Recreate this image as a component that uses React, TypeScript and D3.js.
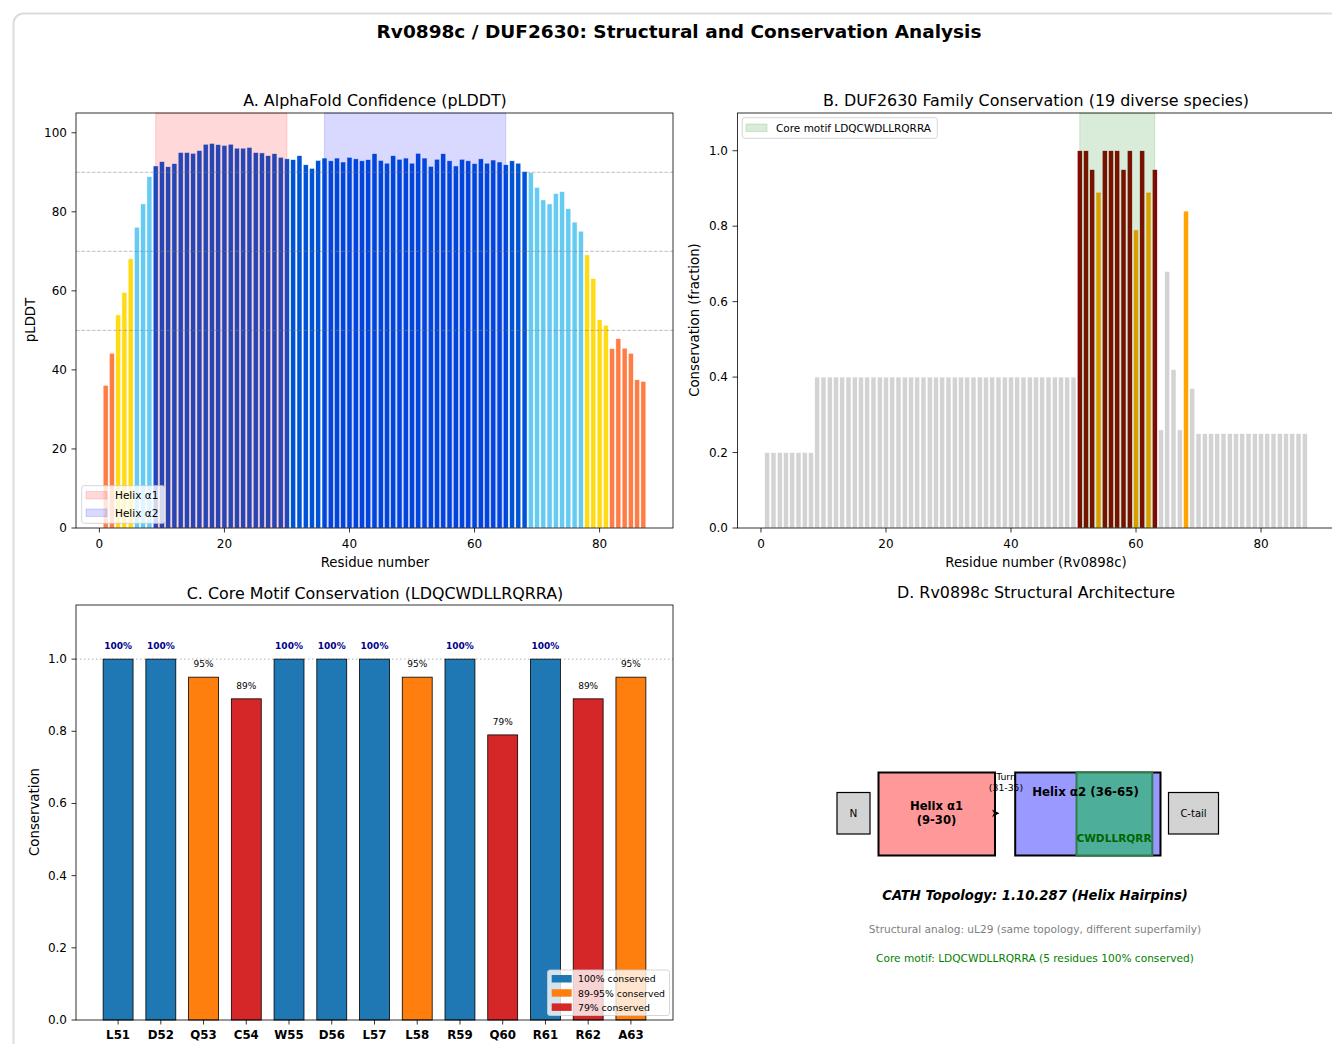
import React from "react";
import * as d3 from "d3";

const plddt: number[] = [
  36.1, 44.2, 53.9, 59.6, 68.1, 76.1, 82.0, 88.9, 91.6, 92.7,
  91.4, 92.2, 95.0, 95.0, 94.8, 95.5, 97.1, 97.3, 97.0, 96.8,
  97.1, 96.1, 96.1, 96.3, 95.0, 94.9, 94.2, 94.7, 93.8, 93.4,
  93.2, 94.2, 91.9, 91.0, 93.0, 93.6, 92.9, 93.6, 92.6, 93.8,
  93.4, 92.9, 93.2, 94.7, 93.0, 92.3, 94.2, 93.3, 93.6, 92.3,
  94.8, 93.6, 91.5, 93.3, 94.7, 92.9, 91.6, 93.3, 92.9, 92.2,
  93.4, 92.3, 93.1, 92.6, 91.9, 92.9, 92.3, 90.2, 89.9, 86.2,
  83.0, 82.0, 84.6, 85.1, 80.8, 77.4, 75.1, 69.1, 63.1, 52.7,
  51.3, 45.4, 47.9, 45.5, 44.2, 37.5, 37.1,
];

const conservation: number[] = [
  0.2, 0.2, 0.2, 0.2, 0.2, 0.2, 0.2, 0.2,
  0.4, 0.4, 0.4, 0.4, 0.4, 0.4, 0.4, 0.4, 0.4, 0.4,
  0.4, 0.4, 0.4, 0.4, 0.4, 0.4, 0.4, 0.4, 0.4, 0.4,
  0.4, 0.4, 0.4, 0.4, 0.4, 0.4, 0.4, 0.4, 0.4, 0.4,
  0.4, 0.4, 0.4, 0.4, 0.4, 0.4, 0.4, 0.4, 0.4, 0.4,
  0.4, 0.4,
  1.0, 1.0, 0.95, 0.89, 1.0, 1.0, 1.0, 0.95, 1.0, 0.79, 1.0, 0.89, 0.95,
  0.26, 0.68, 0.42, 0.26, 0.84, 0.37,
  0.25, 0.25, 0.25, 0.25, 0.25, 0.25, 0.25, 0.25, 0.25,
  0.25, 0.25, 0.25, 0.25, 0.25, 0.25, 0.25, 0.25, 0.25,
];

const motifLabels: string[] = ["L51", "D52", "Q53", "C54", "W55", "D56", "L57", "L58", "R59", "Q60", "R61", "R62", "A63"];
const motifValues: number[] = [1.0, 1.0, 0.95, 0.89, 1.0, 1.0, 1.0, 0.95, 1.0, 0.79, 1.0, 0.89, 0.95];

const helix1: [number, number] = [9, 30];
const helix2: [number, number] = [36, 65];
const motifSpan: [number, number] = [51, 63];

const xTicksRes = [0, 20, 40, 60, 80];
const yTicksA = [0, 20, 40, 60, 80, 100];
const yTicksFrac = [0, 0.2, 0.4, 0.6, 0.8, 1.0];
const refLinesA = [50, 70, 90];

const FONT = "DejaVu Sans, Verdana, sans-serif";

function plddtColor(v: number) {
  if (v > 90) return "#0053D6";
  if (v > 70) return "#65CBF3";
  if (v > 50) return "#FFDB13";
  return "#FF7D45";
}
function consColor(v: number) {
  if (v >= 0.9) return "#8B0000";
  if (v >= 0.7) return "#FFA500";
  return "#D3D3D3";
}
function motifColor(v: number) {
  if (v >= 0.999) return "#1f77b4";
  if (v >= 0.9) return "#ff7f0e";
  return "#d62728";
}

export default function App() {
  const residues = plddt.map((_, i) => i + 1);

  const xA = d3.scaleLinear().domain([-3.74, 91.74]).range([76, 673]);
  const yA = d3.scaleLinear().domain([0, 105]).range([528, 113]);
  const xB = d3.scaleLinear().domain([-3.74, 91.74]).range([737.6, 1334.4]);
  const yB = d3.scaleLinear().domain([0, 1.1]).range([528, 113]);
  const xC = d3.scaleLinear().domain([-0.985, 12.985]).range([76, 673]);
  const yC = d3.scaleLinear().domain([0, 1.15]).range([1020, 605]);

  const tickFs = 12;
  const labelFs = 13.3;
  const titleFs = 15.9;

  return (
    <svg width={1332} height={1044} style={{ position: "absolute", left: 0, top: 0, background: "#fff" }} fontFamily={FONT}>
      <rect x={0} y={0} width={1332} height={1044} fill="#fff" />
      <rect x={13.5} y={13.5} width={1400} height={1100} rx={10} fill="none" stroke="#dcdcdc" strokeWidth={2} />

      <text x={679} y={31} textAnchor="middle" dominantBaseline="central" fontSize={18.5} fontWeight="bold">
        Rv0898c / DUF2630: Structural and Conservation Analysis
      </text>

      {/* ---------- Panel A ---------- */}
      <g>
        {residues.map((r, i) => (
          <rect key={r} x={xA(r - 0.4)} y={yA(plddt[i])} width={xA(r + 0.4) - xA(r - 0.4)} height={yA(0) - yA(plddt[i])}
            fill={plddtColor(plddt[i])} stroke="#fff" strokeWidth={0.5} />
        ))}
        <rect x={xA(helix1[0])} y={113} width={xA(helix1[1]) - xA(helix1[0])} height={415} fill="red" fillOpacity={0.15} stroke="red" strokeOpacity={0.15} />
        <rect x={xA(helix2[0])} y={113} width={xA(helix2[1]) - xA(helix2[0])} height={415} fill="blue" fillOpacity={0.15} stroke="blue" strokeOpacity={0.15} />
        {refLinesA.map((v) => (
          <line key={v} x1={76} x2={673} y1={yA(v)} y2={yA(v)} stroke="gray" strokeOpacity={0.5} strokeDasharray="3.7,1.6" strokeWidth={1} />
        ))}
        <rect x={76} y={113} width={597} height={415} fill="none" stroke="#000" strokeWidth={0.8} />
        {yTicksA.map((t) => (
          <g key={t}>
            <line x1={71.5} x2={76} y1={yA(t)} y2={yA(t)} stroke="#000" strokeWidth={0.8} />
            <text x={67} y={yA(t)} textAnchor="end" dominantBaseline="central" fontSize={tickFs}>{t}</text>
          </g>
        ))}
        {xTicksRes.map((t) => (
          <g key={t}>
            <line x1={xA(t)} x2={xA(t)} y1={528} y2={532.5} stroke="#000" strokeWidth={0.8} />
            <text x={xA(t)} y={544} textAnchor="middle" dominantBaseline="central" fontSize={tickFs}>{t}</text>
          </g>
        ))}
        <text x={375} y={562} textAnchor="middle" dominantBaseline="central" fontSize={labelFs}>Residue number</text>
        <text transform={`translate(30,320) rotate(-90)`} textAnchor="middle" dominantBaseline="central" fontSize={labelFs}>pLDDT</text>
        <text x={375} y={100} textAnchor="middle" dominantBaseline="central" fontSize={titleFs}>A. AlphaFold Confidence (pLDDT)</text>
        <rect x={81.7} y={485.7} width={83.3} height={37.6} rx={2.5} fill="#fff" fillOpacity={0.8} stroke="#ccc" strokeWidth={0.8} />
        <rect x={86} y={491.5} width={21} height={7.5} fill="red" fillOpacity={0.15} stroke="red" strokeOpacity={0.15} />
        <text x={115} y={495} dominantBaseline="central" fontSize={10.5}>Helix α1</text>
        <rect x={86} y={509} width={21} height={7.5} fill="blue" fillOpacity={0.15} stroke="blue" strokeOpacity={0.15} />
        <text x={115} y={512.7} dominantBaseline="central" fontSize={10.5}>Helix α2</text>
      </g>

      {/* ---------- Panel B ---------- */}
      <g>
        {residues.map((r, i) => (
          <rect key={r} x={xB(r - 0.4)} y={yB(conservation[i])} width={xB(r + 0.4) - xB(r - 0.4)} height={yB(0) - yB(conservation[i])}
            fill={consColor(conservation[i])} stroke="#fff" strokeWidth={0.5} />
        ))}
        <rect x={xB(motifSpan[0])} y={113} width={xB(motifSpan[1]) - xB(motifSpan[0])} height={415} fill="green" fillOpacity={0.15} stroke="green" strokeOpacity={0.15} />
        <rect x={737.6} y={113} width={596.8} height={415} fill="none" stroke="#000" strokeWidth={0.8} />
        {yTicksFrac.map((t) => (
          <g key={t}>
            <line x1={732.5} x2={737.6} y1={yB(t)} y2={yB(t)} stroke="#000" strokeWidth={0.8} />
            <text x={728} y={yB(t)} textAnchor="end" dominantBaseline="central" fontSize={tickFs}>{t.toFixed(1)}</text>
          </g>
        ))}
        {xTicksRes.map((t) => (
          <g key={t}>
            <line x1={xB(t)} x2={xB(t)} y1={528} y2={532.5} stroke="#000" strokeWidth={0.8} />
            <text x={xB(t)} y={544} textAnchor="middle" dominantBaseline="central" fontSize={tickFs}>{t}</text>
          </g>
        ))}
        <text x={1036} y={562} textAnchor="middle" dominantBaseline="central" fontSize={labelFs}>Residue number (Rv0898c)</text>
        <text transform={`translate(694,320) rotate(-90)`} textAnchor="middle" dominantBaseline="central" fontSize={labelFs}>Conservation (fraction)</text>
        <text x={1036} y={100} textAnchor="middle" dominantBaseline="central" fontSize={titleFs}>B. DUF2630 Family Conservation (19 diverse species)</text>
        <rect x={742.3} y={117.7} width={195} height={20.6} rx={2.5} fill="#fff" fillOpacity={0.8} stroke="#ccc" strokeWidth={0.8} />
        <rect x={746} y={124} width={21} height={7.5} fill="green" fillOpacity={0.15} stroke="green" strokeOpacity={0.15} />
        <text x={776} y={128} dominantBaseline="central" fontSize={10.5}>Core motif LDQCWDLLRQRRA</text>
      </g>

      {/* ---------- Panel C ---------- */}
      <g>
        <line x1={76} x2={673} y1={yC(1)} y2={yC(1)} stroke="gray" strokeOpacity={0.5} strokeDasharray="1.5,2.5" strokeWidth={1.2} />
        {motifValues.map((v, i) => (
          <g key={i}>
            <rect x={xC(i - 0.35)} y={yC(v)} width={xC(i + 0.35) - xC(i - 0.35)} height={yC(0) - yC(v)}
              fill={motifColor(v)} stroke="#000" strokeWidth={0.8} />
            <text x={xC(i)} y={yC(v) - 10} textAnchor="middle" fontSize={9}
              fontWeight={v >= 0.999 ? "bold" : "normal"} fill={v >= 0.999 ? "#00008B" : "#000"}>
              {Math.round(v * 100)}%
            </text>
          </g>
        ))}
        <rect x={76} y={605} width={597} height={415} fill="none" stroke="#000" strokeWidth={0.8} />
        {yTicksFrac.map((t) => (
          <g key={t}>
            <line x1={71.5} x2={76} y1={yC(t)} y2={yC(t)} stroke="#000" strokeWidth={0.8} />
            <text x={67} y={yC(t)} textAnchor="end" dominantBaseline="central" fontSize={tickFs}>{t.toFixed(1)}</text>
          </g>
        ))}
        {motifLabels.map((l, i) => (
          <g key={l}>
            <line x1={xC(i)} x2={xC(i)} y1={1020} y2={1024.5} stroke="#000" strokeWidth={0.8} />
            <text x={xC(i)} y={1035} textAnchor="middle" dominantBaseline="central" fontSize={11.8} fontWeight="bold">{l}</text>
          </g>
        ))}
        <text transform={`translate(34,812) rotate(-90)`} textAnchor="middle" dominantBaseline="central" fontSize={labelFs}>Conservation</text>
        <text x={375} y={593} textAnchor="middle" dominantBaseline="central" fontSize={titleFs}>C. Core Motif Conservation (LDQCWDLLRQRRA)</text>
        <rect x={547.5} y={970} width={122} height={45.5} rx={2.5} fill="#fff" fillOpacity={0.8} stroke="#ccc" strokeWidth={0.8} />
        {[["#1f77b4", "100% conserved"], ["#ff7f0e", "89-95% conserved"], ["#d62728", "79% conserved"]].map(([c, t], k) => (
          <g key={t}>
            <rect x={551.7} y={975 + k * 14.2} width={20} height={7.5} fill={c} />
            <text x={578} y={978.8 + k * 14.2} dominantBaseline="central" fontSize={9.3}>{t}</text>
          </g>
        ))}
      </g>

      {/* ---------- Panel D ---------- */}
      <g>
        <text x={1036} y={592} textAnchor="middle" dominantBaseline="central" fontSize={titleFs}>D. Rv0898c Structural Architecture</text>
        <rect x={837} y={792.5} width={33} height={41.5} fill="#D3D3D3" stroke="#000" strokeWidth={1.2} />
        <text x={853.5} y={813.3} textAnchor="middle" dominantBaseline="central" fontSize={10.5}>N</text>
        <rect x={878.5} y={772.5} width={116.5} height={83} fill="#FF9999" stroke="#000" strokeWidth={2} />
        <text x={936.5} y={805.7} textAnchor="middle" dominantBaseline="central" fontSize={11.6} fontWeight="bold">Helix α1</text>
        <text x={936.5} y={820} textAnchor="middle" dominantBaseline="central" fontSize={11.6} fontWeight="bold">(9-30)</text>
        <path d="M992,809.5 L999.5,813.3 L992,817 L994,813.3 Z" fill="#000" />
        <rect x={1015.2} y={772.5} width={145.3} height={83} fill="#9999FF" stroke="#000" strokeWidth={2} />
        <text x={1006} y={776} textAnchor="middle" dominantBaseline="central" fontSize={9.3}>Turn</text>
        <text x={1006} y={787.7} textAnchor="middle" dominantBaseline="central" fontSize={9.3}>(31-35)</text>
        <rect x={1076.5} y={772.5} width={75.8} height={83} fill="#4DAF9A" stroke="#2E7D4A" strokeWidth={2} />
        <text x={1085.5} y={792.3} textAnchor="middle" dominantBaseline="central" fontSize={11.8} fontWeight="bold">Helix α2 (36-65)</text>
        <text x={1114} y={837.7} textAnchor="middle" dominantBaseline="central" fontSize={10.6} fontWeight="bold" fill="#006400">CWDLLRQRR</text>
        <rect x={1168.5} y={792.5} width={50} height={41.5} fill="#D3D3D3" stroke="#000" strokeWidth={1.2} />
        <text x={1193.5} y={813.3} textAnchor="middle" dominantBaseline="central" fontSize={10}>C-tail</text>
        <text x={1035} y={895} textAnchor="middle" dominantBaseline="central" fontSize={13.2} fontWeight="bold" fontStyle="italic">CATH Topology: 1.10.287 (Helix Hairpins)</text>
        <text x={1035} y={929.3} textAnchor="middle" dominantBaseline="central" fontSize={10.6} fill="gray">Structural analog: uL29 (same topology, different superfamily)</text>
        <text x={1035} y={958.3} textAnchor="middle" dominantBaseline="central" fontSize={10.6} fill="green">Core motif: LDQCWDLLRQRRA (5 residues 100% conserved)</text>
      </g>
    </svg>
  );
}
